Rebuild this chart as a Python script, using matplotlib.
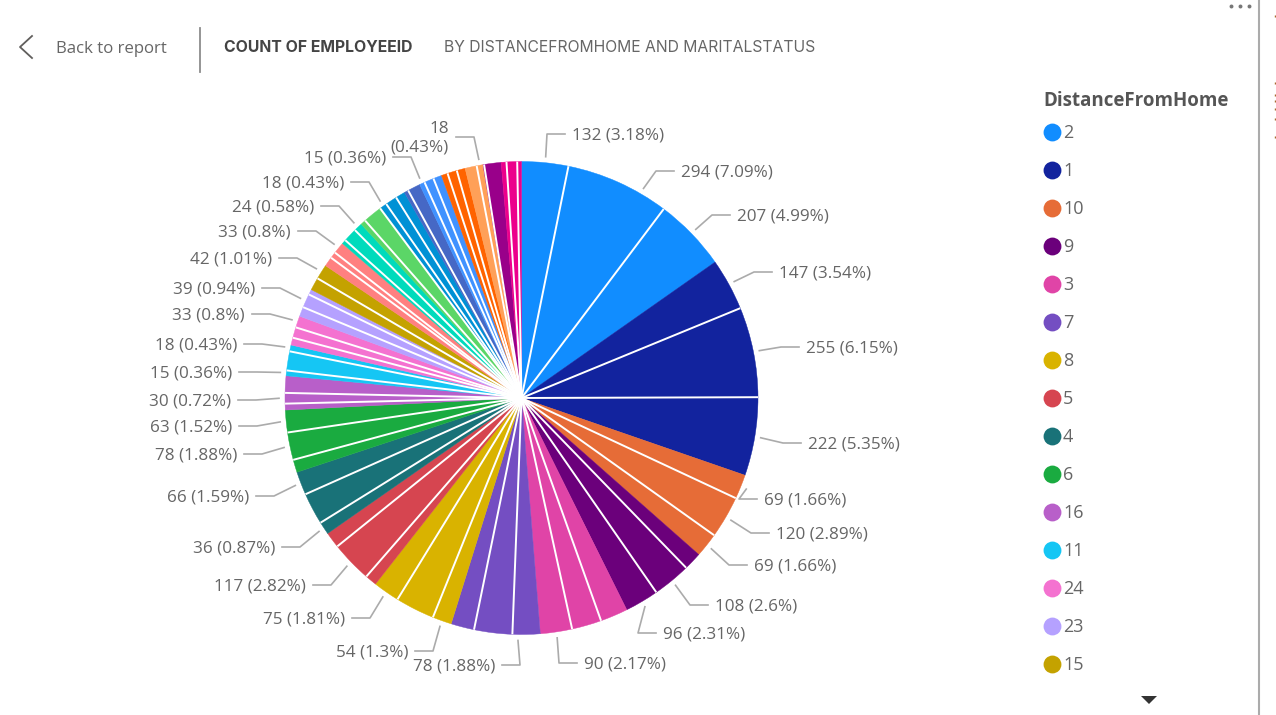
import matplotlib
matplotlib.use("Agg")
from matplotlib import pyplot as plt
import numpy as np

# legend entries that are visible, in legend order
legend_names = ["2", "1", "10", "9", "3", "7", "8", "5", "4", "6", "16", "11", "24", "23", "15"]

group_colors = ["#118DFF", "#12239E", "#E66C37", "#6B007B", "#E044A7", "#744EC2", "#D9B300",
                "#D64550", "#197278", "#1AAB40", "#B85FC9", "#15C6F4", "#F472D0", "#B5A1FF",
                "#C4A200", "#FF8080", "#00DBBC", "#5BD667", "#0091D5", "#4668C5", "#4092FF",
                "#FF6300", "#FFA058", "#99008A", "#EC008C"]

# counts per distance group, clockwise from the top
group_counts = [[132, 294, 207], [147, 255, 222], [69, 120, 69], [51, 108, 96], [78, 84, 90],
                [78, 108, 66], [54, 111, 75], [33, 117, 45], [36, 90, 66], [36, 78, 63],
                [18, 30, 48], [15, 54, 18], [21, 30, 33], [27, 39, 15], [36, 42],
                [27, 18, 33], [12, 39, 24], [15, 54, 3], [18, 33, 27], [12, 36],
                [15, 27, 24], [18, 27, 24], [33, 18], [3, 48], [15, 30, 12]]

# percent shown in the label, None where the chart shows no label
group_pcts = [[3.18, 7.09, 4.99], [3.54, 6.15, 5.35], [1.66, 2.89, 1.66], [None, 2.6, 2.31],
              [None, None, 2.17], [1.88, None, None], [1.3, None, 1.81], [None, 2.82, None],
              [0.87, None, 1.59], [None, 1.88, 1.52], [None, 0.72, None], [0.36, None, 0.43],
              [None, None, 0.8], [None, 0.94, None], [None, 1.01], [None, None, 0.8],
              [None, None, 0.58], [None, None, None], [0.43, None, None], [None, None],
              [0.36, None, None], [None, None, None], [None, 0.43], [None, None],
              [None, None, None]]

# layout: inner edge of each label text in pixels (x, y), same order as the labelled slices
label_places = [(572, 134), (681, 171), (737, 215), (779, 272), (806, 347), (808, 443),
                (764, 499), (776, 533), (754, 565), (715, 605), (663, 633), (584, 663),
                (495, 665), (408, 651), (345, 618), (306, 585), (275, 547), (249, 496),
                (237, 454), (232, 426), (231, 400), (232, 372), (237, 344), (245, 314),
                (255, 288), (272, 258), (291, 231), (314, 206), (344, 182), (386, 157),
                (449, 137)]

# layout: leaders that leave the slice away from its middle, degrees clockwise by label number
leader_shift = {1: 6, 12: 2}

W, H = 1276, 715
CX, CY, R = 521.5, 398, 236.5
TEXT = "#666666"
LEADER = "#ABABAB"
FONT = "Open Sans"


def py(y):
    # picture rows run downwards, the axes upwards
    return H - y


fig = plt.figure(figsize=(W / 100, H / 100), dpi=100)
ax = fig.add_axes([0, 0, 1, 1])

flat_counts = [c for g in group_counts for c in g]
flat_pcts = [p for g in group_pcts for p in g]
flat_colors = [group_colors[i] for i, g in enumerate(group_counts) for _ in g]

wedges, _ = ax.pie(flat_counts, colors=flat_colors, startangle=90, counterclock=False,
                   center=(CX, py(CY)), radius=R, frame=True)
for w in wedges:
    w.set_edgecolor(w.get_facecolor())
    w.set_linewidth(0.3)
ax.set_xlim(0, W)
ax.set_ylim(0, H)
ax.set_aspect("equal")
ax.axis("off")

# white rules only between slices of one group, none between groups
n = 0
for g in group_counts:
    for k in range(1, len(g)):
        a = np.radians(wedges[n + k].theta2)
        ax.plot([CX, CX + R * np.cos(a)], [py(CY), py(CY) + R * np.sin(a)],
                color="white", lw=1.4, solid_capstyle="butt", zorder=3)
    n += len(g)

lab = 0
for w, count, pct in zip(wedges, flat_counts, flat_pcts):
    if pct is None:
        continue
    tx, ty = label_places[lab]
    a = np.radians((w.theta1 + w.theta2) / 2 - leader_shift.get(lab, 0))
    rim = (CX + (R + 6) * np.cos(a), py(CY) + (R + 6) * np.sin(a))
    right_side = tx > CX
    side = 1 if right_side else -1
    line_y = py(ty)
    # two-line label near the top where the neighbours leave no room
    label = f"{count} ({pct}%)"
    if lab == len(label_places) - 1:
        label = f"{count}\n({pct}%)"
    ax.plot([rim[0], tx - side * 25, tx - side * 7], [rim[1], line_y, line_y],
            color=LEADER, lw=1.2, zorder=2)
    ax.text(tx, line_y - 1.5, label, ha="left" if right_side else "right", va="center",
            fontsize=12.3, color=TEXT, family=FONT, linespacing=1.25)
    lab += 1

# header
ax.plot([32, 20, 32], [py(36), py(47), py(58)], color="#605E5C", lw=1.3)
ax.text(56, py(49), "Back to report", fontsize=12.1, color=TEXT, family=FONT, va="center")
ax.plot([200, 200], [py(28), py(72)], color="#8C8C8C", lw=1.3)
ax.text(224, py(47.5), "COUNT OF EMPLOYEEID", fontsize=11.35, color="#444444", family="Inter",
        weight="bold", va="center")
ax.text(444, py(47.5), "BY DISTANCEFROMHOME AND MARITALSTATUS", fontsize=11.3, color="#666666",
        family="Inter", va="center")

# legend
ax.text(1043.5, py(101), "DistanceFromHome", fontsize=13.5, color="#555555", family=FONT,
        weight="bold", va="center")
for i, name in enumerate(legend_names):
    y = py(132 + 38 * i)
    ax.scatter([1052], [y], s=165, color=group_colors[i], linewidths=0, zorder=3)
    ax.text(1063, y - 1.5, name, fontsize=13, color=TEXT, family=FONT, va="center")

# scroll arrow, more-options dots, pane border, clipped text at the far edge
ax.fill([1141, 1157, 1149], [py(696), py(696), py(704)], color="#333333", lw=0)
ax.scatter([1231, 1240, 1249], [py(5.5)] * 3, s=8, color="#777777", linewidths=0)
ax.plot([1259, 1259], [0, H], color="#ABABAB", lw=1.5)
ax.vlines([1275] * 7, [py(y + 2) for y in (15, 82, 94, 100, 108, 118, 136)],
          [py(y) for y in (15, 82, 94, 100, 108, 118, 136)], color="#A8682E", lw=1)

fig.savefig("out.png", dpi=100, facecolor="white")
